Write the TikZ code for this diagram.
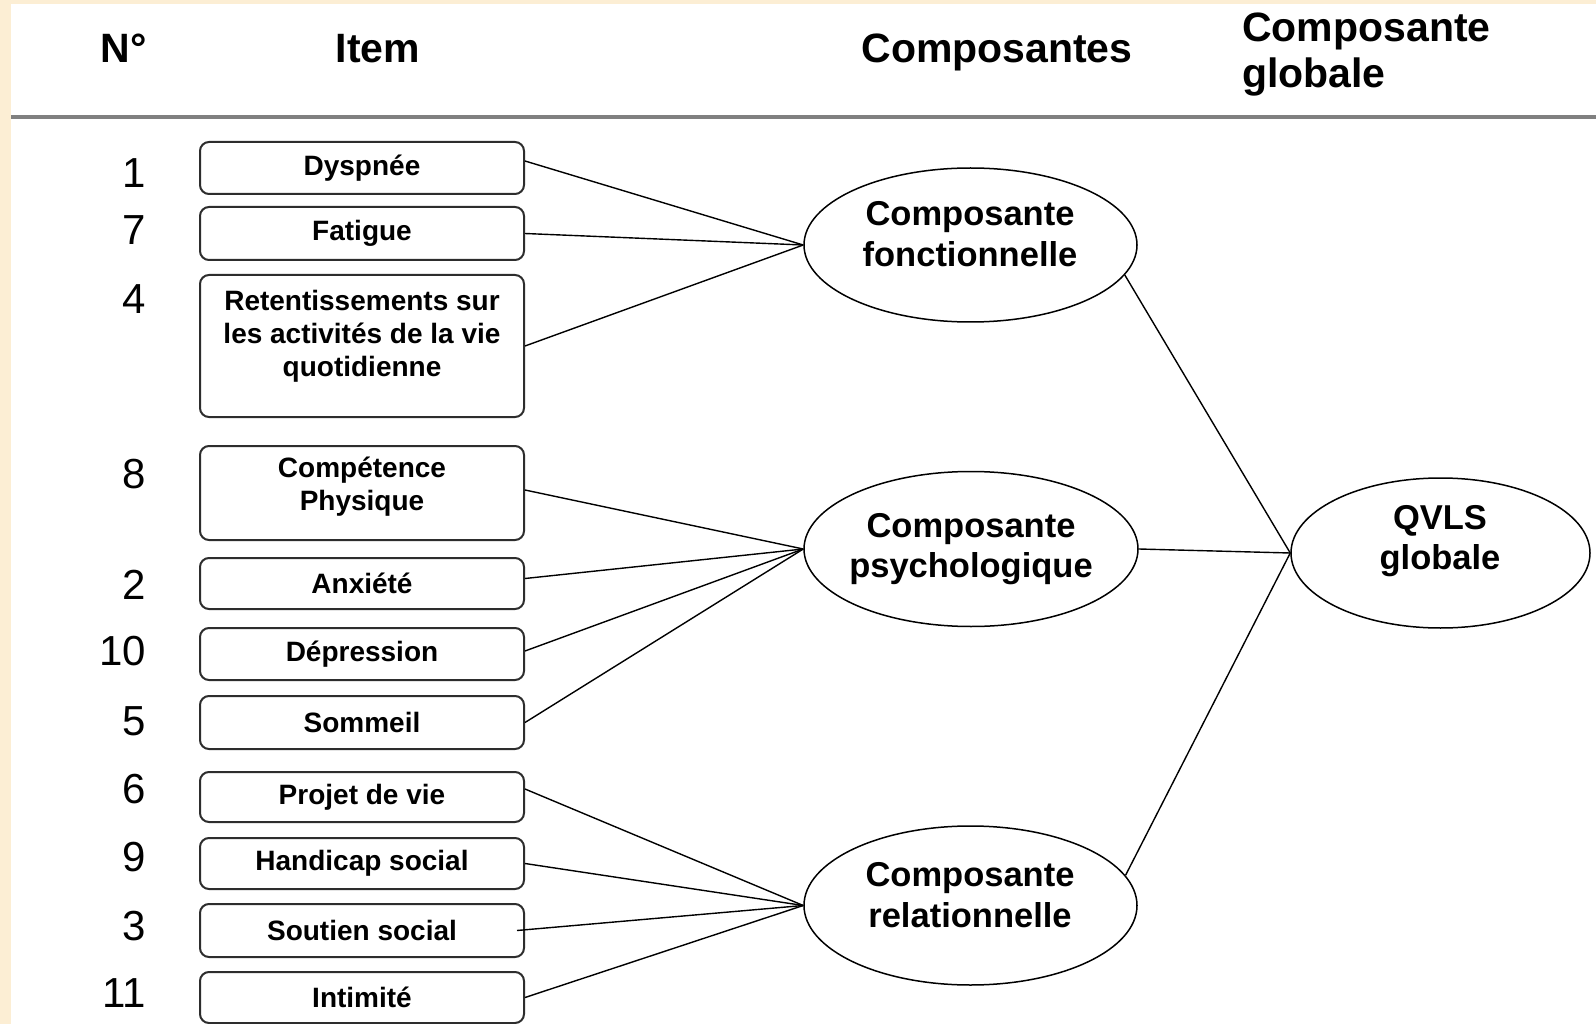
\documentclass[tikz,border=0pt]{standalone}
\usepackage{fontspec}
\setmainfont{Liberation Sans}
\usetikzlibrary{shapes.geometric}
\definecolor{parch}{RGB}{252,238,212}
\definecolor{rulegray}{RGB}{128,128,128}
\definecolor{boxline}{RGB}{45,45,45}
\begin{document}
\begin{tikzpicture}[x=1pt,y=-1pt,
 itembox/.style={draw=boxline, line width=2pt, rounded corners=9pt, minimum width=324pt, inner sep=0pt, font=\fontsize{28}{33}\selectfont\bfseries, align=center},
 itemtext/.style={inner sep=0pt, font=\fontsize{28}{33}\selectfont\bfseries, align=center},
 comp/.style={draw, line width=1.5pt, ellipse, inner sep=0pt},
 comptext/.style={inner sep=0pt, font=\fontsize{34.5}{40.7}\selectfont\bfseries, align=center},
 num/.style={anchor=east, inner sep=0pt, font=\fontsize{42}{42}\selectfont},
 head/.style={anchor=base, inner sep=0pt, font=\fontsize{41}{46}\selectfont\bfseries},
 link/.style={line width=1.4pt, black}]
\fill[parch] (0,0) rectangle (1596,1024);
\fill[white] (11,4) rectangle (1596,1024);
\useasboundingbox (0,0) rectangle (1596,1024);

% header
\node[head] (hn) at (124,63) {N°};
\node[head] (hi) at (378,63) {Item};
\node[head] (hc) at (997,63) {Composantes};
\node[head, anchor=north west, align=left] (hg) at (1242,13) {Composante\\globale};
\coordinate (rl) at (11,117);
\coordinate (rr) at (1596,117);
\draw[rulegray, line width=3.5pt] (rl) -- (rr);

% numbers
\node[num] (n1) at (146,173) {1};
\node[num] (n7) at (146,230) {7};
\node[num] (n4) at (146,299) {4};
\node[num] (n8) at (146,474) {8};
\node[num] (n2) at (146,585) {2};
\node[num] (n10) at (146,651) {10};
\node[num] (n5) at (146,721) {5};
\node[num] (n6) at (146,789) {6};
\node[num] (n9) at (146,857) {9};
\node[num] (n3) at (146,926) {3};
\node[num] (n11) at (146,993) {11};

% item boxes
\node[itembox, minimum height=52pt] (b1) at (362,168) {Dyspnée};
\node[itembox, minimum height=53pt] (b7) at (362,233.5) {Fatigue};
\node[itembox, minimum height=142pt] (b4) at (362,346) {};
\node[itemtext] (t4) at (362,336) {Retentissements sur\\les activités de la vie\\quotidienne};
\node[itembox, minimum height=94pt] (b8) at (362,493) {};
\node[itemtext] (t8) at (362,487) {Compétence\\Physique};
\node[itembox, minimum height=51pt] (b2) at (362,583.5) {Anxiété};
\node[itembox, minimum height=52pt] (b10) at (362,654) {Dépression};
\node[itembox, minimum height=53pt] (b5) at (362,722.5) {Sommeil};
\node[itembox, minimum height=50pt] (b6) at (362,797) {Projet de vie};
\node[itembox, minimum height=51pt] (b9) at (362,863.5) {Handicap social};
\node[itembox, minimum height=53pt] (b3) at (362,930.5) {Soutien social};
\node[itembox, minimum height=51pt] (b11) at (362,997.5) {Intimité};

% component ellipses
\node[comp, minimum width=333pt, minimum height=154pt] (cf) at (970.5,245) {};
\node[comptext] (tf) at (970,234) {Composante\\fonctionnelle};
\node[comp, minimum width=334pt, minimum height=155pt] (cp) at (971,549) {};
\node[comptext] (tp) at (971,549) {Composante\\psychologique};
\node[comp, minimum width=333pt, minimum height=159pt] (cr) at (970.5,905.5) {};
\node[comptext] (tr) at (970,895) {Composante\\relationnelle};
\node[comp, minimum width=299pt, minimum height=150pt] (cq) at (1440.5,553) {};
\node[comptext] (tq) at (1440,541) {QVLS\\globale};

% connectors items -> components
\draw[link] ([yshift=7pt]b1.east) -- (cf.west);
\draw[link] (b7.east) -- (cf.west);
\draw[link] (b4.east) -- (cf.west);
\draw[link] ([yshift=3pt]b8.east) -- (cp.west);
\draw[link] ([yshift=5pt]b2.east) -- (cp.west);
\draw[link] ([yshift=3pt]b10.east) -- (cp.west);
\draw[link] (b5.east) -- (cp.west);
\draw[link] ([yshift=8pt]b6.east) -- (cr.west);
\draw[link] (b9.east) -- (cr.west);
\draw[link] ([xshift=-8pt]b3.east) -- (cr.west);
\draw[link] (b11.east) -- (cr.west);

% components -> global
\draw[link] (cf.-11) -- (cq.west);
\draw[link] (cp.east) -- (cq.west);
\draw[link] (cr.11) -- (cq.west);
\end{tikzpicture}
\end{document}
